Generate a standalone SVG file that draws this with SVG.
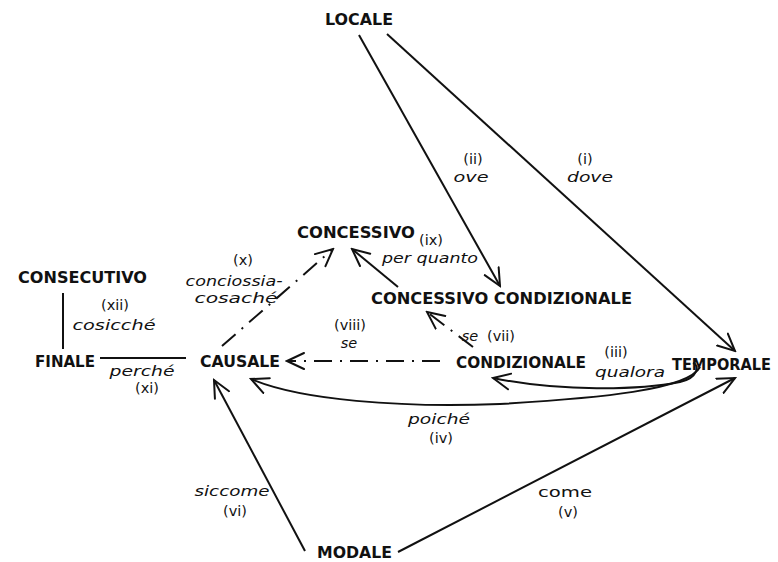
<svg xmlns="http://www.w3.org/2000/svg" width="778" height="562" viewBox="0 0 778 562">
<style>
.node{font-family:"DejaVu Sans","Liberation Sans",Arial,sans-serif;font-weight:bold;font-size:16.5px;fill:#111}
.lbl{font-family:"DejaVu Sans","Liberation Sans",Arial,sans-serif;font-size:14.5px;fill:#111;text-anchor:middle}
.sm{font-size:14px}
.it{font-style:italic}
.ln{fill:none;stroke:#111;stroke-width:2}
.dd{stroke-dasharray:18 8 2 8}
.ah{fill:none;stroke:#111;stroke-width:2;stroke-dasharray:none;stroke-linecap:round;stroke-linejoin:miter}
</style>
<defs>
<marker id="arr" viewBox="0 0 20 20" refX="18" refY="10" markerWidth="20" markerHeight="20" markerUnits="userSpaceOnUse" orient="auto">
<path class="ah" d="M1,2 L18,10 L1,18"/>
</marker>
</defs>
<rect width="778" height="562" fill="#fff"/>
<g id="connectors">
<path class="ln" d="M359,35 L500,286" marker-end="url(#arr)"/>
<path class="ln" d="M387,34 L735,351" marker-end="url(#arr)"/>
<path class="ln" d="M398,287 L352,249" marker-end="url(#arr)"/>
<path class="ln dd" d="M222,346 L333,249" marker-end="url(#arr)"/>
<path class="ln dd" d="M473,347 L427,312" marker-end="url(#arr)"/>
<path class="ln dd" d="M440,361 L287,361" marker-end="url(#arr)"/>
<path class="ln" d="M693,363 C700,365 698,378 680,382 C640,390 560,392 493,378" marker-end="url(#arr)"/>
<path class="ln" d="M700,367 C688,390 600,398 500,404 C400,408 300,400 251,379" marker-end="url(#arr)"/>
<path class="ln" d="M305,551 L214,380" marker-end="url(#arr)"/>
<path class="ln" d="M398,552 L735,378" marker-end="url(#arr)"/>
<path class="ln" d="M63,293 L63,349"/>
<path class="ln" d="M100,358 L186,358"/>
</g>
<g id="locale"><text class="node" x="325" y="25" textLength="68" lengthAdjust="spacingAndGlyphs">LOCALE</text></g>
<g id="concessivo"><text class="node" x="297" y="238" textLength="118" lengthAdjust="spacingAndGlyphs">CONCESSIVO</text></g>
<g id="consecutivo"><text class="node" x="18" y="283" textLength="129" lengthAdjust="spacingAndGlyphs">CONSECUTIVO</text></g>
<g id="finale"><text class="node" x="35" y="367" textLength="60" lengthAdjust="spacingAndGlyphs">FINALE</text></g>
<g id="causale"><text class="node" x="200" y="367" textLength="80" lengthAdjust="spacingAndGlyphs">CAUSALE</text></g>
<g id="concessivo-condizionale"><text class="node" x="371" y="304" textLength="261" lengthAdjust="spacingAndGlyphs">CONCESSIVO CONDIZIONALE</text></g>
<g id="condizionale"><text class="node" x="456" y="368" textLength="130" lengthAdjust="spacingAndGlyphs">CONDIZIONALE</text></g>
<g id="temporale"><text class="node" x="672" y="370" textLength="99" lengthAdjust="spacingAndGlyphs" style="font-size:15px">TEMPORALE</text></g>
<g id="modale"><text class="node" x="317" y="558" textLength="75" lengthAdjust="spacingAndGlyphs">MODALE</text></g>
<g id="labels">
<text class="lbl" x="585" y="164">(i)</text>
<text class="lbl it" x="590" y="182" textLength="46" lengthAdjust="spacingAndGlyphs">dove</text>
<text class="lbl" x="473" y="164">(ii)</text>
<text class="lbl it" x="471" y="182" textLength="35" lengthAdjust="spacingAndGlyphs">ove</text>
<text class="lbl" x="431" y="245">(ix)</text>
<text class="lbl it" x="430" y="263" textLength="96" lengthAdjust="spacingAndGlyphs">per quanto</text>
<text class="lbl" x="243" y="265">(x)</text>
<text class="lbl it sm" x="234" y="286" textLength="97" lengthAdjust="spacingAndGlyphs">conciossia-</text>
<text class="lbl it sm" x="236" y="303" textLength="83" lengthAdjust="spacingAndGlyphs">cosaché</text>
<text class="lbl" x="115" y="310">(xii)</text>
<text class="lbl it" x="114" y="330" textLength="83" lengthAdjust="spacingAndGlyphs">cosicché</text>
<text class="lbl it" x="142" y="376" textLength="65" lengthAdjust="spacingAndGlyphs">perché</text>
<text class="lbl" x="147" y="393">(xi)</text>
<text class="lbl" x="350" y="330">(viii)</text>
<text class="lbl it" x="349" y="348">se</text>
<text class="lbl it" x="470" y="341">se</text>
<text class="lbl" x="501" y="341">(vii)</text>
<text class="lbl" x="616" y="357">(iii)</text>
<text class="lbl it" x="630" y="377" textLength="70" lengthAdjust="spacingAndGlyphs">qualora</text>
<text class="lbl it" x="439" y="424" textLength="62" lengthAdjust="spacingAndGlyphs">poiché</text>
<text class="lbl" x="441" y="443">(iv)</text>
<text class="lbl it" x="232" y="496" textLength="75" lengthAdjust="spacingAndGlyphs">siccome</text>
<text class="lbl" x="235" y="516">(vi)</text>
<text class="lbl" x="565" y="497" textLength="54" lengthAdjust="spacingAndGlyphs">come</text>
<text class="lbl" x="568" y="517">(v)</text>
</g>
</svg>
